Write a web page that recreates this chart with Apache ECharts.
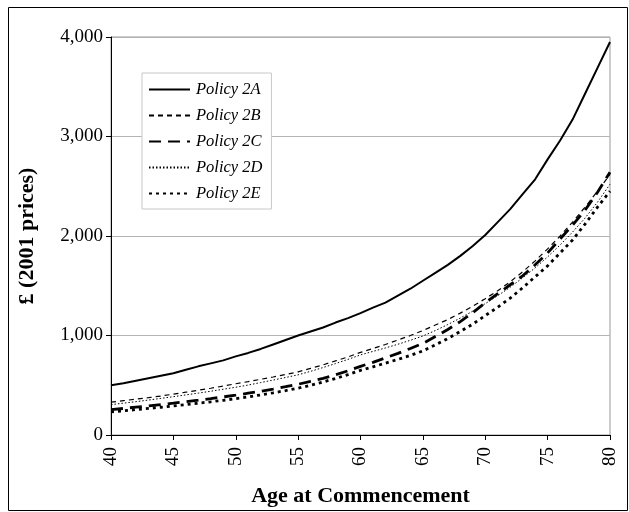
<!DOCTYPE html>
<html>
<head>
<meta charset="utf-8">
<script src="https://cdn.jsdelivr.net/npm/echarts@6/dist/echarts.min.js"></script>
<style>
html,body{margin:0;padding:0;background:#fff;}
#c{width:629px;height:512px;}
</style>
</head>
<body>
<div id="c"></div>
<script>
const ages = [40,41,42,43,44,45,46,47,48,49,50,51,52,53,54,55,56,57,58,59,60,61,62,63,64,65,66,67,68,69,70,71,72,73,74,75,76,77,78,79,80];
const policy2A = [500,520,545,570,595,620,655,690,720,750,790,825,865,910,955,1000,1040,1080,1130,1175,1225,1280,1330,1400,1470,1550,1630,1710,1800,1900,2010,2140,2270,2420,2570,2770,2960,3170,3430,3690,3950];
const policy2B = [330,345,360,375,392,410,430,450,470,492,515,537,560,583,608,635,670,705,745,785,830,870,910,955,1000,1050,1105,1160,1225,1295,1370,1450,1540,1640,1750,1870,2000,2140,2290,2450,2620];
const policy2C = [255,267,280,293,306,320,335,350,366,383,400,420,440,462,485,510,540,570,605,645,690,730,775,820,870,920,990,1060,1140,1230,1330,1420,1510,1600,1710,1830,1970,2110,2260,2440,2640];
const policy2D = [305,320,335,351,368,385,403,421,440,460,480,502,527,552,578,605,640,678,718,760,805,840,875,912,952,995,1050,1110,1175,1245,1320,1400,1485,1580,1680,1790,1910,2040,2180,2340,2520];
const policy2E = [232,243,255,267,279,292,306,320,334,349,365,383,403,424,446,470,500,533,568,607,650,685,722,760,800,845,905,970,1040,1115,1200,1285,1375,1480,1590,1700,1830,1960,2120,2290,2450];
const seriesNames = ['Policy 2A','Policy 2B','Policy 2C','Policy 2D','Policy 2E'];
const yTicks = [0,1000,2000,3000,4000];

const serif = '"Liberation Serif","Times New Roman",serif';
function pairs(vals){ return ages.map((a,i)=>[a, vals[i]]); }
const styles = [
  {width:2, type:'solid'},
  {width:1.2, type:[5,4]},
  {width:2.8, type:[12,7]},
  {width:1, type:[1.5,2]},
  {width:2.8, type:[3,4]}
];
const data = [policy2A, policy2B, policy2C, policy2D, policy2E];

const chart = echarts.init(document.getElementById('c'), null, {renderer:'canvas'});
chart.setOption({
  animation:false,
  backgroundColor:'#fff',
  graphic:[{type:'rect', shape:{x:8.5,y:7.5,width:619,height:503}, style:{fill:'none',stroke:'#000',lineWidth:1}, z:-1}],
  grid:{left:111, right:19, top:37, bottom:75, show:true, borderColor:'#999', borderWidth:1, backgroundColor:'#fff'},
  legend:{
    orient:'vertical', left:142, top:73,
    data:seriesNames,
    itemWidth:41, itemHeight:14, itemGap:9,
    padding:[8,9,7,6],
    borderColor:'#c8c8c8', borderWidth:1, backgroundColor:'#fff',
    itemStyle:{opacity:0},
    textStyle:{fontFamily:serif, fontStyle:'italic', fontSize:16.5, color:'#000', padding:[0,0,0,1]}
  },
  xAxis:{
    type:'value', min:40, max:80, interval:5,
    name:'Age at Commencement', nameLocation:'middle', nameGap:50,
    nameTextStyle:{fontFamily:serif, fontWeight:'bold', fontSize:22, color:'#000'},
    axisLine:{show:true, onZero:false, lineStyle:{color:'#000', width:1}},
    axisTick:{show:true, length:5, lineStyle:{color:'#000'}},
    axisLabel:{rotate:90, fontFamily:serif, fontSize:19, color:'#000', margin:12},
    splitLine:{show:false}
  },
  yAxis:{
    type:'value', min:0, max:4000, interval:1000,
    name:'£ (2001 prices)', nameLocation:'middle', nameGap:73,
    nameTextStyle:{fontFamily:serif, fontWeight:'bold', fontSize:22, color:'#000'},
    axisLine:{show:true, lineStyle:{color:'#000', width:1}},
    axisTick:{show:true, length:5, lineStyle:{color:'#000'}},
    axisLabel:{fontFamily:serif, fontSize:19, color:'#000', margin:8,
      formatter:v=> yTicks.includes(v) ? v.toLocaleString('en-US') : ''},
    splitLine:{show:true, lineStyle:{color:'#b4b4b4', width:1}}
  },
  series: seriesNames.map((n,i)=>({
    name:n, type:'line', data:pairs(data[i]), symbol:'none', smooth:false,
    lineStyle:{color:'#000', width:styles[i].width, type:styles[i].type},
    itemStyle:{color:'#000'}
  }))
});
</script>
</body>
</html>
